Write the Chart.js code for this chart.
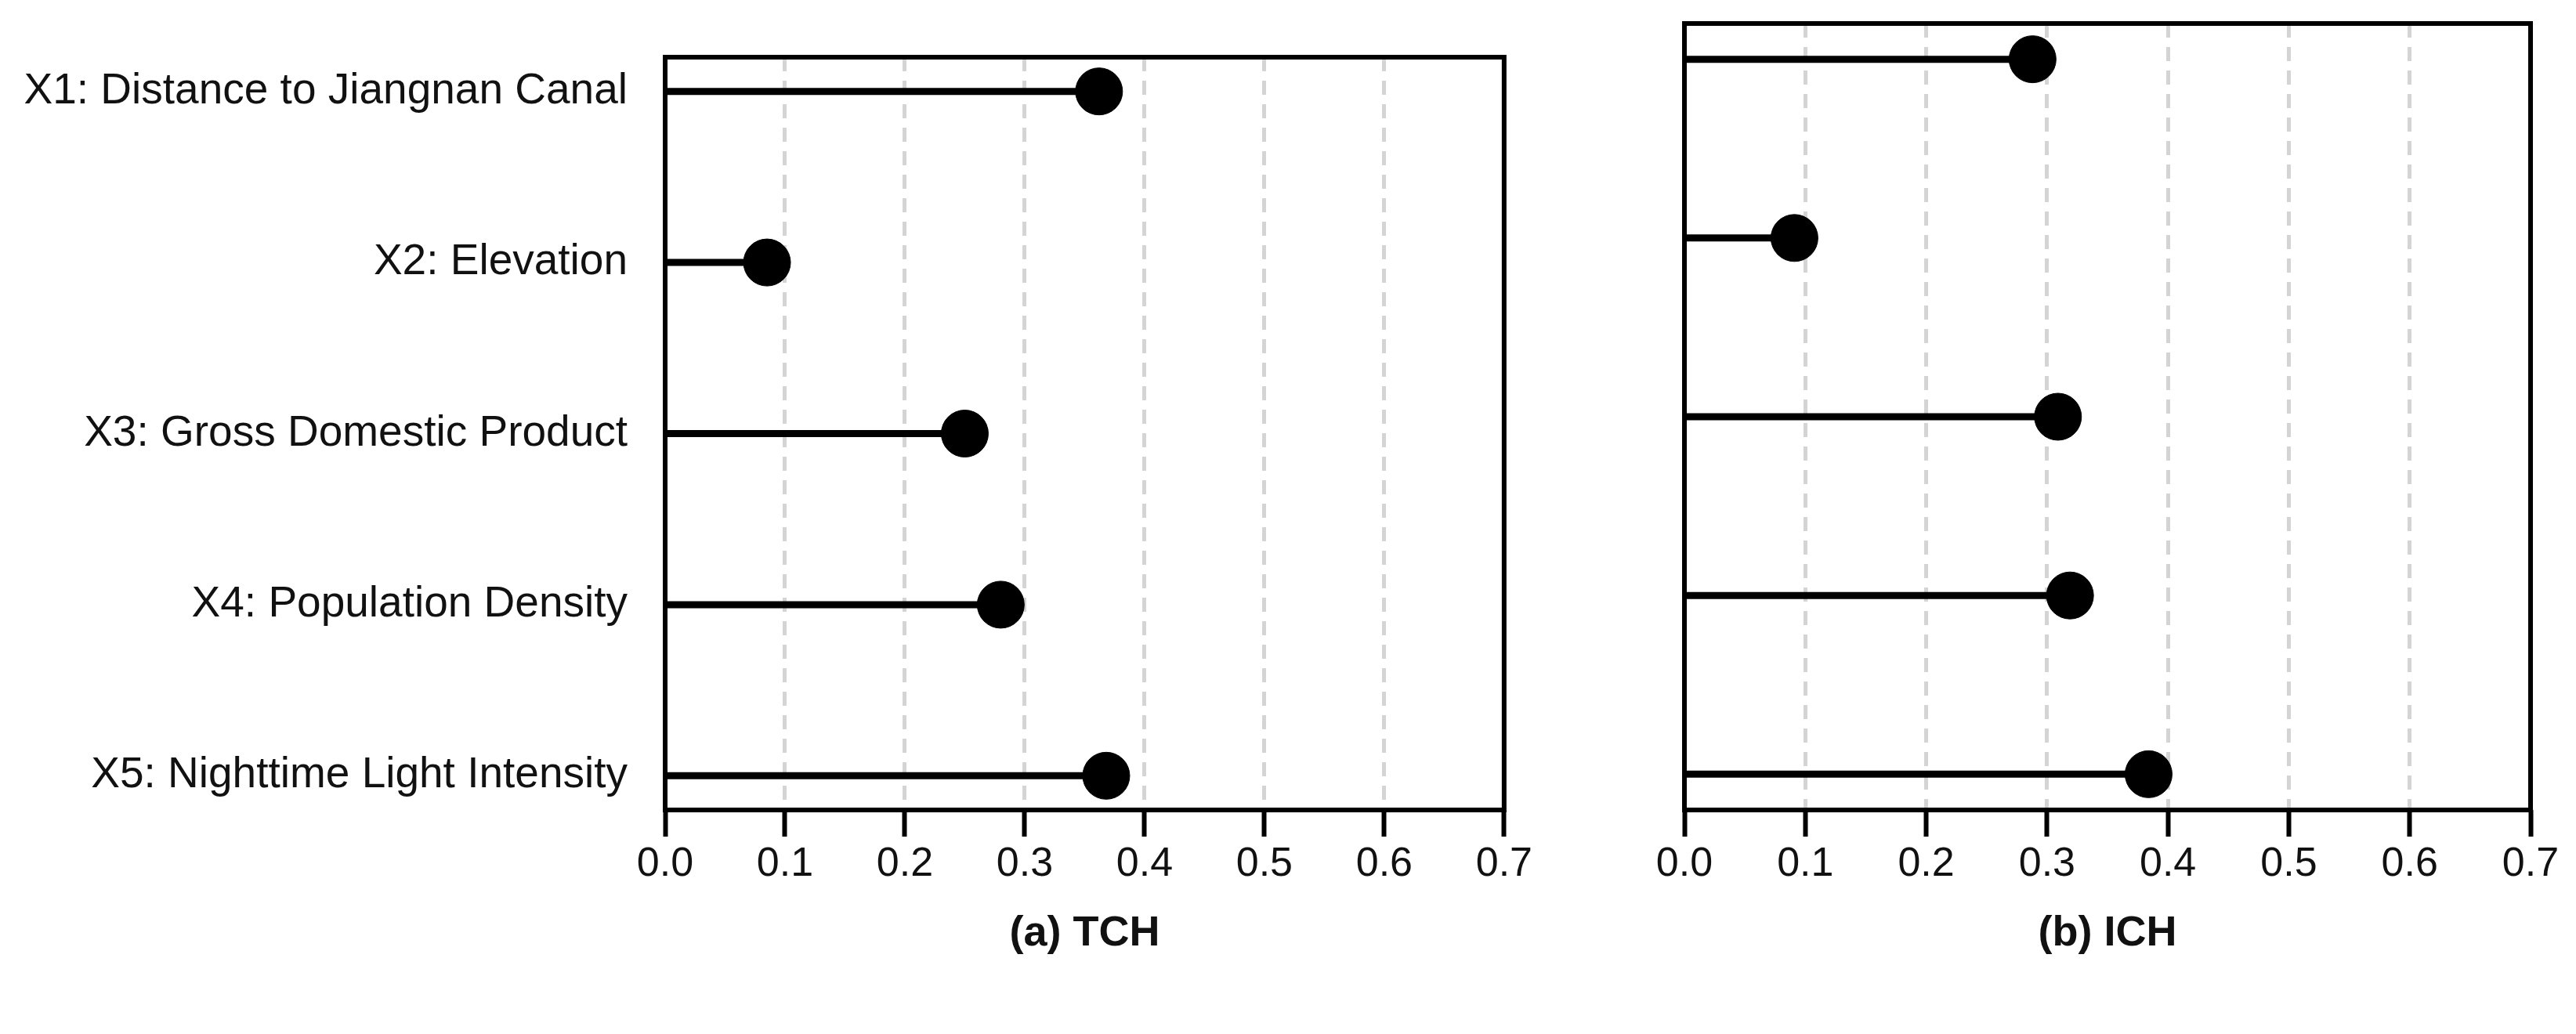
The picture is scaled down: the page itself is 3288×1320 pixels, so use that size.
<!DOCTYPE html>
<html>
<head>
<meta charset="utf-8">
<script src="https://cdn.jsdelivr.net/npm/chart.js@4/dist/chart.umd.min.js"></script>
<style>
  body { margin: 0; background: #fff; }
  #wrap { position: relative; width: 3288px; height: 1320px; }
  canvas { position: absolute; top: 0; }
</style>
</head>
<body>
<div id="wrap">
  <canvas id="tch" style="left:0"></canvas>
  <canvas id="ich" style="left:1960px"></canvas>
</div>
<script>
const factors = [
  "X1: Distance to Jiangnan Canal",
  "X2: Elevation",
  "X3: Gross Domestic Product",
  "X4: Population Density",
  "X5: Nighttime Light Intensity"
];
const tchValues = [0.362, 0.085, 0.250, 0.280, 0.368];
const ichValues = [0.288, 0.091, 0.309, 0.319, 0.384];
const xTicks = [0.0, 0.1, 0.2, 0.3, 0.4, 0.5, 0.6, 0.7];

const FONT = "'Liberation Sans', Arial, sans-serif";

// frame around the plot area
const boxPlugin = {
  id: "box",
  afterDatasetsDraw(chart) {
    const a = chart.chartArea;
    const ctx = chart.ctx;
    ctx.save();
    ctx.strokeStyle = "#000";
    ctx.lineWidth = 6;
    ctx.strokeRect(a.left, a.top, a.right - a.left, a.bottom - a.top);
    ctx.restore();
  }
};

function makeChart(id, values, title, width, axisWidth, padRight, showLabels) {
  const canvas = document.getElementById(id);
  canvas.width = width;
  canvas.height = 1320;
  canvas.style.width = width + "px";
  canvas.style.height = "1320px";

  const datasets = values.map((v, i) => ({
    type: "line",
    data: [{ x: 0, y: i }, { x: v, y: i }],
    borderColor: "#000",
    borderWidth: 9,
    pointRadius: 0,
    fill: false,
    order: 2
  }));
  datasets.push({
    type: "scatter",
    data: values.map((v, i) => ({ x: v, y: i })),
    backgroundColor: "#000",
    borderColor: "#000",
    pointRadius: 30,
    order: 1
  });

  return new Chart(canvas, {
    data: { datasets: datasets },
    plugins: [boxPlugin],
    options: {
      responsive: false,
      animation: false,
      devicePixelRatio: 1,
      layout: { autoPadding: false, padding: { top: 30, right: padRight, left: 0, bottom: 0 } },
      plugins: { legend: { display: false }, tooltip: { enabled: false } },
      scales: {
        x: {
          type: "linear",
          min: 0,
          max: 0.7,
          afterBuildTicks(scale) {
            scale.ticks = xTicks.map(v => ({ value: v }));
          },
          afterFit(scale) { scale.height = 286; },
          border: { display: false, dash: [18, 12] },
          grid: {
            color: "#d4d4d4",
            lineWidth: 5,
            tickColor: "#000",
            tickWidth: 6,
            tickLength: 34,
            tickBorderDash: [1, 0]
          },
          ticks: {
            padding: 4,
            color: "#111",
            font: { family: FONT, size: 52 },
            callback: v => v.toFixed(1)
          },
          title: {
            display: true,
            text: title,
            color: "#111",
            font: { family: FONT, size: 54, weight: "bold" },
            padding: { top: 0, bottom: 95 }
          }
        },
        y: {
          type: "linear",
          reverse: true,
          min: -0.2,
          max: 4.2,
          afterBuildTicks(scale) {
            scale.ticks = factors.map((f, i) => ({ value: i }));
          },
          afterFit(scale) { scale.width = axisWidth; },
          border: { display: false },
          grid: { display: false },
          ticks: {
            display: showLabels,
            padding: 40,
            color: "#111",
            font: { family: FONT, size: 55 },
            callback: v => factors[v]
          }
        }
      }
    }
  });
}

makeChart("tch", tchValues, "(a) TCH", 1960, 849, 31, true);
makeChart("ich", ichValues, "(b) ICH", 1328, 190, 58, false);
</script>
</body>
</html>
